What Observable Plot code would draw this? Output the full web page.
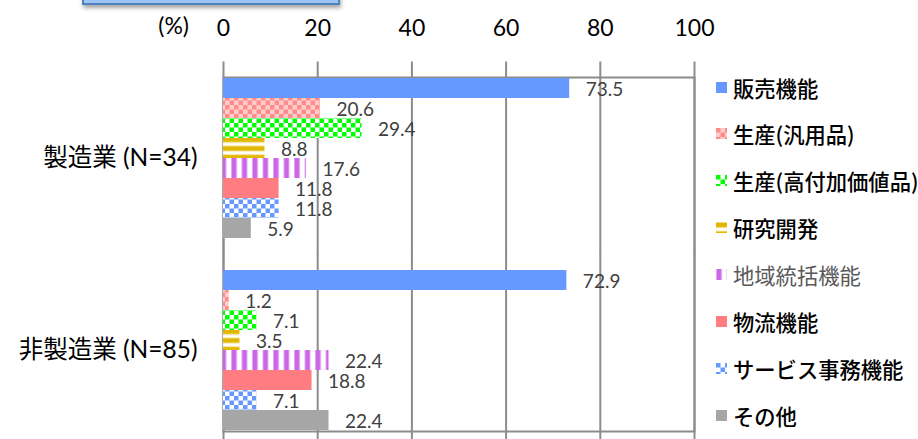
<!DOCTYPE html>
<html>
<head>
<meta charset="utf-8">
<script src="https://cdn.jsdelivr.net/npm/d3@7"></script>
<script src="https://cdn.jsdelivr.net/npm/@observablehq/plot@0.6"></script>
<style>
html, body { margin: 0; padding: 0; background: #fff; overflow: hidden; width: 918px; height: 439px; }
#wrap { position: relative; width: 918px; height: 439px; overflow: hidden; font-family: Lato, "Noto Sans CJK JP", sans-serif; }
#chart { position: absolute; left: 0; top: 0; }
#box { position: absolute; left: 82px; top: -22px; width: 254px; height: 23px; background: #9ec3f6; border: 2px solid #4f81bd; box-shadow: 1px 3px 4px rgba(0,0,0,0.35); }
#unit { position: absolute; right: 729px; top: 10px; font-size: 23px; color: #000; line-height: 30px; }
.leg { position: absolute; left: 716px; height: 30px; display: flex; align-items: center; font-family: "Noto Sans CJK JP", sans-serif; font-size: 21.3px; font-weight: 500; color: #000; white-space: nowrap; }
.leg svg { margin-right: 6px; flex: none; }
</style>
</head>
<body>
<div id="wrap">
  <div id="chart"></div>
  <div id="box"></div>
  <div id="unit">(%)</div>
</div>
<script>
// ---- data ----
const categories = ["製造業 (N=34)", "非製造業 (N=85)"];
const series = ["販売機能", "生産(汎用品)", "生産(高付加価値品)", "研究開発", "地域統括機能", "物流機能", "サービス事務機能", "その他"];
const manufacturing = [73.5, 20.6, 29.4, 8.8, 17.6, 11.8, 11.8, 5.9];
const nonManufacturing = [72.9, 1.2, 7.1, 3.5, 22.4, 18.8, 7.1, 22.4];
const xTicks = [0, 20, 40, 60, 80, 100];

// ---- styles ----
const seriesFills = ["#6699ff", "url(#pPink)", "url(#pGreen)", "url(#pYellow)", "url(#pPurple)", "#ff7c80", "url(#pBlue)", "#a6a6a6"];
const gridColor = "#8c8c8c";

const valuesByCategory = [manufacturing, nonManufacturing];
const rows = categories.flatMap((c, ci) => series.map((s, si) => ({category: c, series: s, value: valuesByCategory[ci][si]})));

const defs = `
<defs>
  <pattern id="pPink" patternUnits="userSpaceOnUse" width="9" height="9">
    <rect width="9" height="9" fill="#ffcccc"/>
    <rect x="0" y="0" width="4.5" height="4.5" fill="#ff8c8c"/>
    <rect x="4.5" y="4.5" width="4.5" height="4.5" fill="#ff8c8c"/>
  </pattern>
  <pattern id="pGreen" patternUnits="userSpaceOnUse" width="9" height="9">
    <rect width="9" height="9" fill="#ffffff"/>
    <rect x="0" y="0" width="4.5" height="4.5" fill="#00ff00"/>
    <rect x="4.5" y="4.5" width="4.5" height="4.5" fill="#00ff00"/>
  </pattern>
  <pattern id="pBlue" patternUnits="userSpaceOnUse" width="9" height="9">
    <rect width="9" height="9" fill="#ffffff"/>
    <rect x="0" y="0" width="4.5" height="4.5" fill="#6699ff"/>
    <rect x="4.5" y="4.5" width="4.5" height="4.5" fill="#6699ff"/>
  </pattern>
  <pattern id="pYellow" patternUnits="userSpaceOnUse" width="9" height="8.7">
    <rect width="9" height="8.7" fill="#ffffff"/>
    <rect x="0" y="0" width="9" height="6" fill="#f3de86"/>
    <rect x="0" y="1" width="9" height="4" fill="#e2b700"/>
  </pattern>
  <pattern id="pPurple" patternUnits="userSpaceOnUse" width="10.5" height="9">
    <rect width="10.5" height="9" fill="#ffffff"/>
    <rect x="0" y="0" width="6" height="9" fill="#e0a6f0"/>
    <rect x="1" y="0" width="4" height="9" fill="#cc66e6"/>
  </pattern>
</defs>`;

const chart = Plot.plot({
  width: 918,
  height: 446,
  marginLeft: 223,
  marginRight: 224,
  marginTop: 62,
  marginBottom: 0,
  style: {background: "transparent", color: "#000", fontFamily: "Lato, 'Noto Sans CJK JP', sans-serif"},
  x: {domain: [0, 100]},
  y: {domain: series, padding: 0, axis: null},
  fy: {domain: categories, paddingInner: 30 / 191.6, paddingOuter: 15 / 191.6, label: null},
  color: {domain: series, range: seriesFills},
  marks: [
    Plot.ruleX(xTicks, {stroke: gridColor, strokeWidth: 2, strokeOpacity: 1, insetTop: -15.5, insetBottom: -15.5}),
    Plot.frame({stroke: gridColor, strokeWidth: 2, facet: "super"}),
    Plot.barX(rows, {x: "value", y: "series", fy: "category", fill: "series", inset: 0}),
    Plot.text(rows, {x: "value", y: "series", fy: "category", text: d => d3.format(".1f")(d.value),
      textAnchor: "start", dx: 16, dy: 1, fill: "#404040", fontSize: 19}),
    Plot.axisX({anchor: "top", ticks: xTicks, tickSize: 0, tickPadding: 42, fontSize: 23, label: null}),
    Plot.axisFy({anchor: "left", tickSize: 0, tickPadding: 26, fontSize: 24.5, label: null})
  ]
});

chart.insertAdjacentHTML("afterbegin", defs);
document.getElementById("chart").appendChild(chart);

// legend
const wrap = document.getElementById("wrap");
series.forEach((s, i) => {
  const item = document.createElement("div");
  item.className = "leg";
  item.style.top = (87 + i * 46.9 - 15) + "px";
  if (s === "地域統括機能") { item.style.color = "#595959"; item.style.fontWeight = "400"; }
  item.innerHTML = `<svg width="11" height="11"><rect width="11" height="11" fill="${seriesFills[i]}"/></svg><span>${s}</span>`;
  wrap.appendChild(item);
});
</script>
</body>
</html>
